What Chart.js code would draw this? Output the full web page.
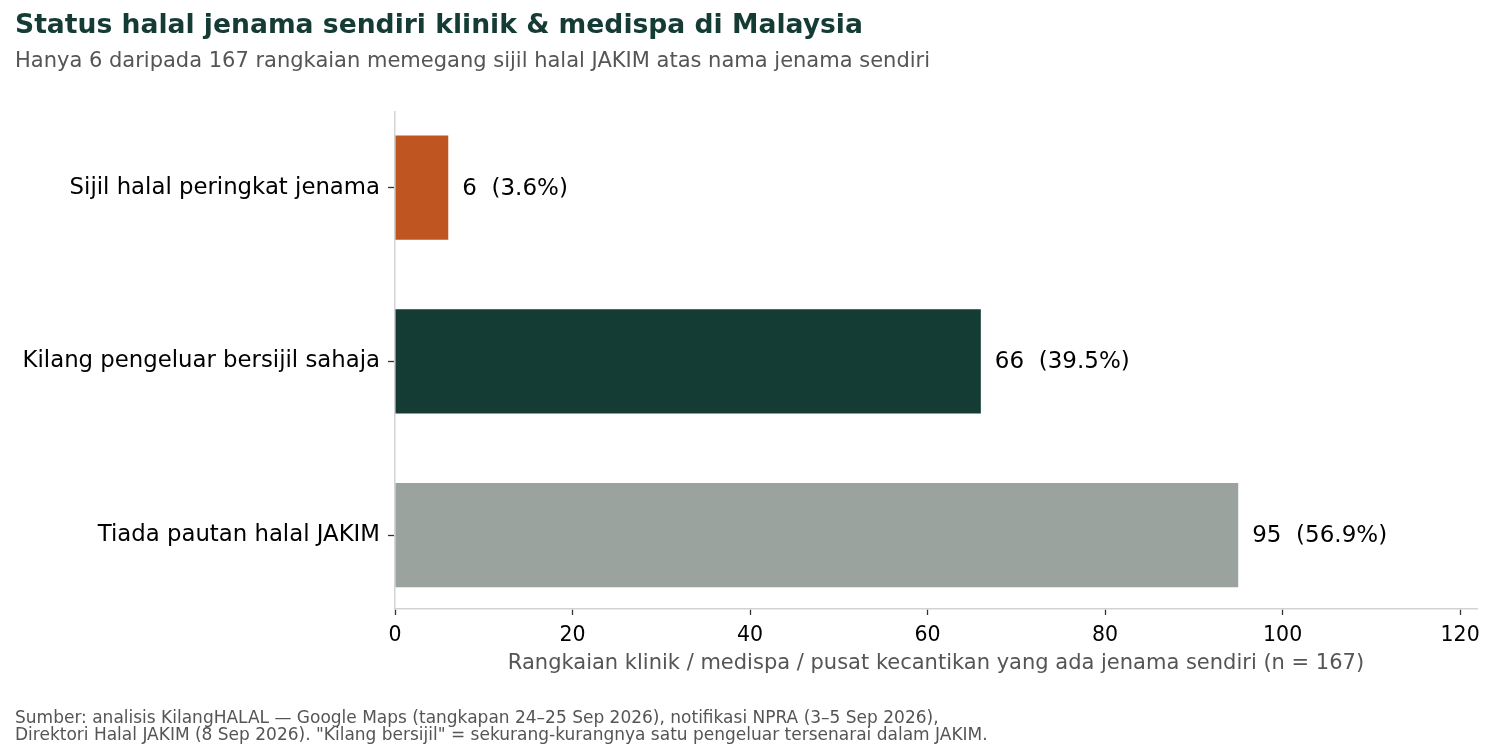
<!DOCTYPE html>
<html><head><meta charset="utf-8">
<script src="https://cdn.jsdelivr.net/npm/chart.js@4.4.1/dist/chart.umd.min.js"></script>
<style>html,body{margin:0;padding:0;background:#fff;overflow:hidden}#wrap{width:1500px;height:750px;position:relative}</style>
</head><body><div id="wrap"><canvas id="c" width="1500" height="750"></canvas></div>
<script>
const categories = ["Sijil halal peringkat jenama", "Kilang pengeluar bersijil sahaja", "Tiada pautan halal JAKIM"];
const counts = [6, 66, 95];
const percentLabels = ["3.6%", "39.5%", "56.9%"];
const barColors = ["#bf5521", "#143b34", "#9aa39e"];
const xTickValues = [0, 20, 40, 60, 80, 100, 120];
const titleText = "Status halal jenama sendiri klinik & medispa di Malaysia";
const subtitleText = "Hanya 6 daripada 167 rangkaian memegang sijil halal JAKIM atas nama jenama sendiri";
const xAxisTitle = "Rangkaian klinik / medispa / pusat kecantikan yang ada jenama sendiri (n = 167)";
const footerLines = [
  "Sumber: analisis KilangHALAL \u2014 Google Maps (tangkapan 24\u201325 Sep 2026), notifikasi NPRA (3\u20135 Sep 2026),",
  "Direktori Halal JAKIM (8 Sep 2026). \"Kilang bersijil\" = sekurang-kurangnya satu pengeluar tersenarai dalam JAKIM."
];

const FONT = "'DejaVu Sans', sans-serif";

const textPlugin = {
  id: 'texts',
  afterDraw(chart) {
    const ctx = chart.ctx;
    const area = chart.chartArea;
    ctx.save();
    ctx.textBaseline = 'middle';
    ctx.textAlign = 'left';
    ctx.fillStyle = '#143b34';
    ctx.font = "bold 26.6px " + FONT;
    ctx.fillText(titleText, 15, 26);
    ctx.fillStyle = '#555555';
    ctx.font = "21px " + FONT;
    ctx.fillText(subtitleText, 15, 62);
    ctx.font = "17px " + FONT;
    ctx.fillText(footerLines[0], 15, 719);
    ctx.fillText(footerLines[1], 15, 736);
    ctx.textAlign = 'center';
    ctx.font = "21px " + FONT;
    ctx.fillText(xAxisTitle, (area.left + area.right) / 2, 664);
    // bar value labels
    const meta = chart.getDatasetMeta(0);
    ctx.textAlign = 'left';
    ctx.fillStyle = '#000000';
    ctx.font = "23px " + FONT;
    meta.data.forEach((bar, i) => {
      ctx.fillText(counts[i] + "  (" + percentLabels[i] + ")", bar.x + 14, bar.y + 1);
    });
    ctx.restore();
  }
};

new Chart(document.getElementById('c'), {
  type: 'bar',
  data: {
    datasets: [{
      data: counts.map((v, i) => ({ x: v, y: i })),
      backgroundColor: barColors,
      borderWidth: 0,
      barPercentage: 0.6,
      categoryPercentage: 1.0
    }]
  },
  options: {
    indexAxis: 'y',
    responsive: false,
    animation: false,
    devicePixelRatio: 1,
    layout: { padding: { left: 0, top: 112, right: 23, bottom: 0 } },
    plugins: { legend: { display: false }, tooltip: { enabled: false }, title: { display: false } },
    scales: {
      y: {
        type: 'linear',
        reverse: true,
        offset: false,
        min: -0.435,
        max: 2.425,
        afterBuildTicks(axis) { axis.ticks = categories.map((_, i) => ({ value: i })); },
        afterFit(axis) { axis.width = 395; },
        ticks: {
          callback: (v) => categories[v],
          font: { family: FONT, size: 22.8 },
          color: '#000000',
          padding: 8
        },
        grid: { offset: false, drawOnChartArea: false, drawTicks: true, tickLength: 7, tickColor: '#333333', tickWidth: 1.3 },
        border: { display: true, color: '#d3d3d3', width: 1.5 }
      },
      x: {
        type: 'linear',
        min: 0,
        max: 121.9,
        afterBuildTicks(axis) { axis.ticks = xTickValues.map(v => ({ value: v })); },
        afterFit(axis) { axis.height = 141; },
        ticks: {
          font: { family: FONT, size: 20.5 },
          color: '#000000',
          padding: 8
        },
        grid: { drawOnChartArea: false, drawTicks: true, tickLength: 6, tickColor: '#333333', tickWidth: 1.3 },
        border: { display: true, color: '#d3d3d3', width: 1.5 }
      }
    }
  },
  plugins: [textPlugin]
});
</script>
</body></html>
